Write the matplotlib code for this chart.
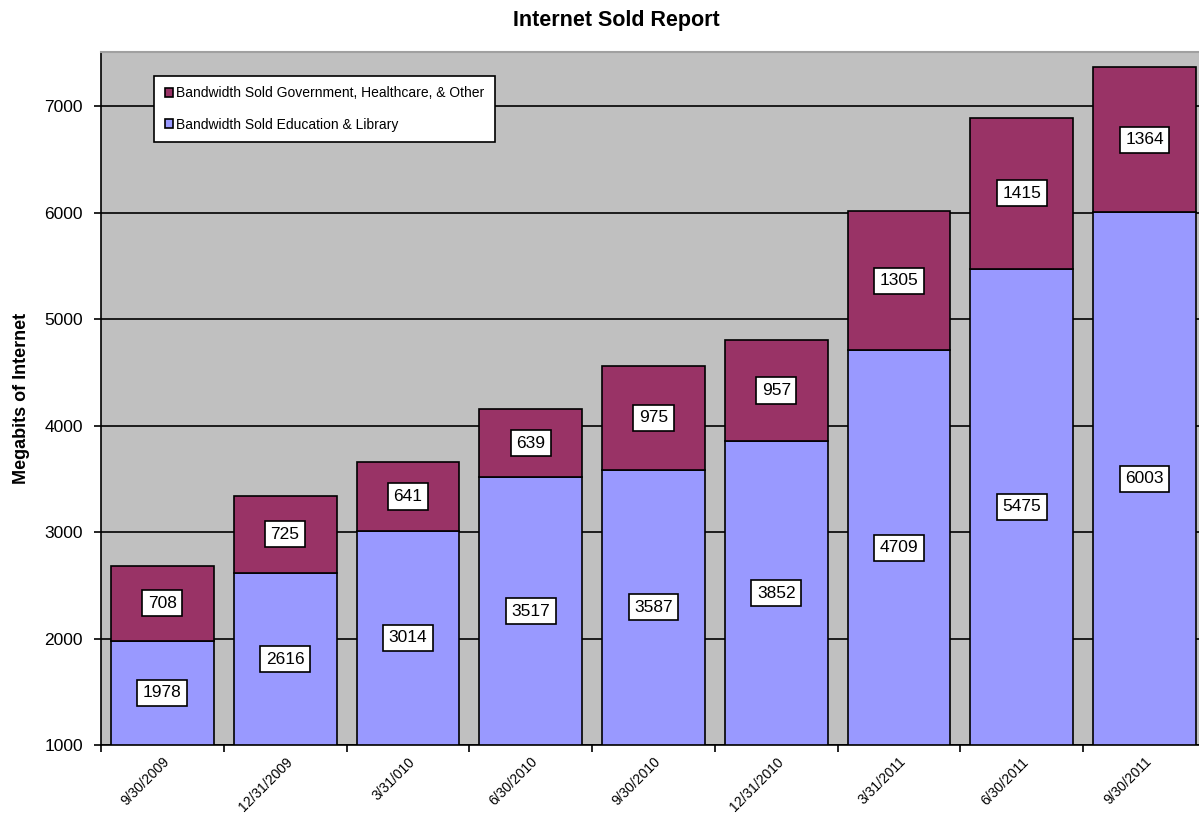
import numpy as np
import matplotlib.pyplot as plt

plt.rcParams['font.family'] = ['Liberation Sans', 'DejaVu Sans']

# Данні
dates = ['9/30/2009', '12/31/2009', '3/31/010', '6/30/2010', '9/30/2010',
         '12/31/2010', '3/31/2011', '6/30/2011', '9/30/2011']
education = [1978, 2616, 3014, 3517, 3587, 3852, 4709, 5475, 6003]
other = [708, 725, 641, 639, 975, 957, 1305, 1415, 1364]

ymin = 1000

fig = plt.figure(figsize=(11.99, 8.16), dpi=100)
# права межа області графіка виходить за край картинки, як в оригіналі
ax = fig.add_axes([0.0842, 0.087, 0.9216, 0.8496])
ax.set_facecolor('#C0C0C0')

x = np.arange(len(dates))
w = 0.837
edu = np.array(education)
oth = np.array(other)

ax.set_axisbelow(True)
ax.grid(axis='y', color='black', linewidth=1.2)

ax.bar(x, edu, w, color='#9999FF', edgecolor='black', linewidth=1.2,
       label='Bandwidth Sold Education & Library')
ax.bar(x, oth, w, bottom=edu, color='#993366', edgecolor='black', linewidth=1.2,
       label='Bandwidth Sold Government, Healthcare, & Other')

# Підписи значень
box = dict(boxstyle='square,pad=0.32', facecolor='white', edgecolor='black', linewidth=1.2)
for i in range(len(dates)):
    ax.text(x[i], (ymin + edu[i]) / 2, str(edu[i]), ha='center', va='center',
            fontsize=12.5, bbox=box)
    ax.text(x[i], edu[i] + oth[i] / 2, str(oth[i]), ha='center', va='center',
            fontsize=12.5, bbox=box)

ax.set_xlim(-0.5, 8.5)
ax.set_ylim(ymin, 7513)
ax.set_yticks(range(1000, 8000, 1000))
ax.set_xticks(x)
ax.set_xticklabels(dates, rotation=45, ha='right', rotation_mode='anchor', fontsize=10)
ax.set_xticks(np.arange(-0.5, 9, 1), minor=True)
ax.tick_params(axis='x', which='major', length=0, pad=7)
ax.tick_params(axis='x', which='minor', length=5, direction='out', width=1.2)
ax.tick_params(axis='y', labelsize=12.5, length=5, width=1.2, pad=8)

ax.spines['right'].set_visible(False)
ax.spines['top'].set_color('#A0A0A0')
ax.spines['top'].set_linewidth(1.5)
ax.spines['left'].set_linewidth(1.2)
ax.spines['bottom'].set_linewidth(1.2)

ax.set_ylabel('Megabits of Internet', fontsize=13, fontweight='bold', labelpad=10)
fig.suptitle('Internet Sold Report', fontsize=15.5, fontweight='bold', x=0.514, y=0.988)

handles, labels = ax.get_legend_handles_labels()
leg = ax.legend(handles[::-1], labels[::-1], loc='upper left',
                bbox_to_anchor=(0.042, 0.975), fontsize=10, fancybox=False,
                framealpha=1, edgecolor='black', handlelength=0.6,
                handleheight=0.6, handletextpad=0.2, labelspacing=1.25,
                borderpad=0.75)
leg.get_frame().set_linewidth(1.2)

fig.savefig('out.png', dpi=100)
